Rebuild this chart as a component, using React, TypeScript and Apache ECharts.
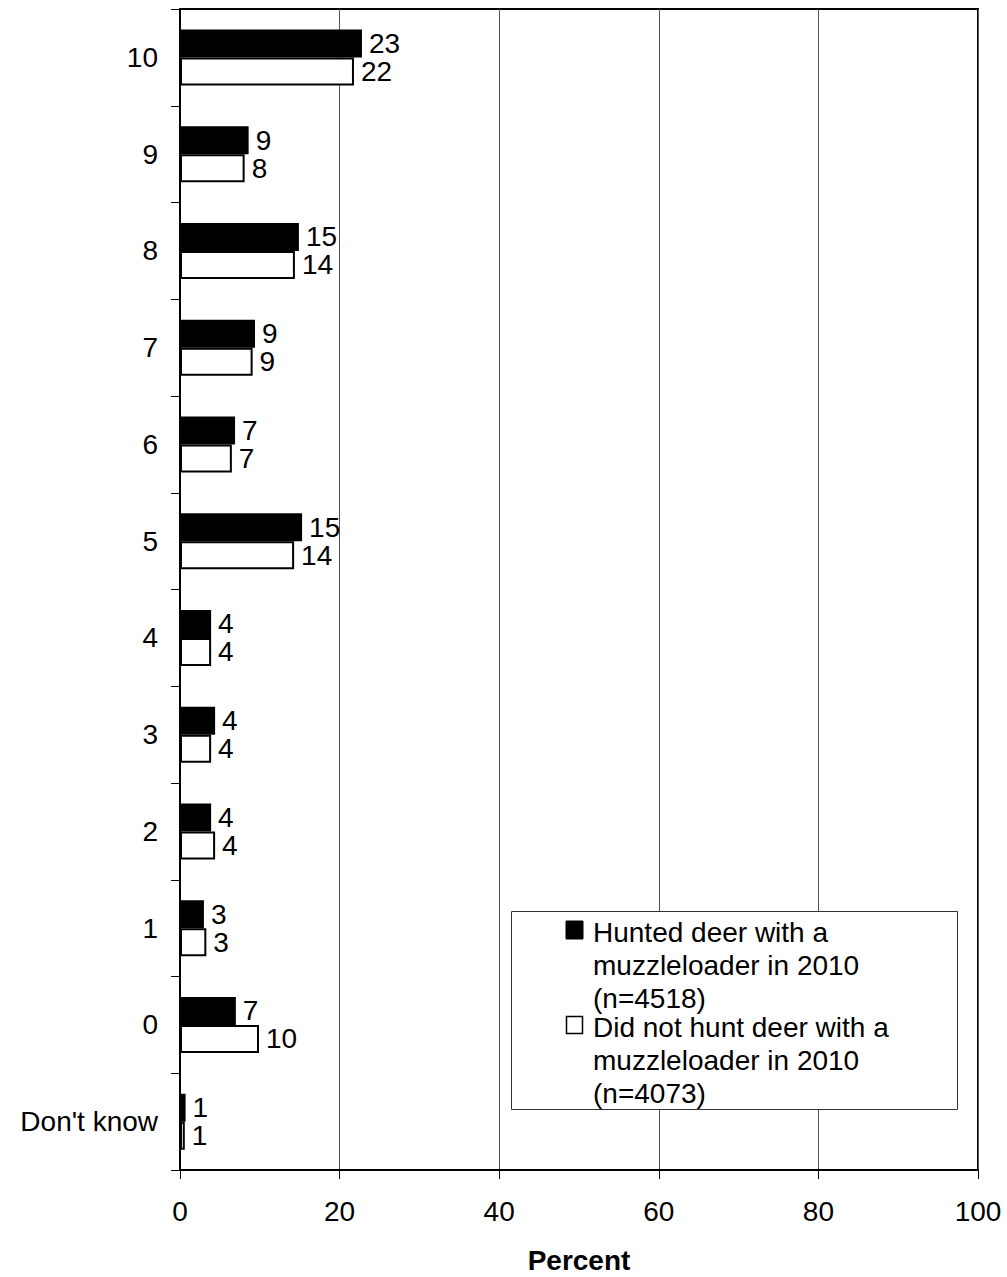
import React, { useEffect, useRef } from "react";
import * as echarts from "echarts";

const categories = ["10", "9", "8", "7", "6", "5", "4", "3", "2", "1", "0", "Don't know"];
const hunted = [22.8, 8.6, 14.9, 9.4, 6.9, 15.3, 3.9, 4.4, 3.9, 3.0, 7.0, 0.7];
const notHunted = [21.8, 8.1, 14.4, 9.1, 6.5, 14.3, 3.9, 3.9, 4.4, 3.3, 9.9, 0.6];
const huntedName = "Hunted deer with a\nmuzzleloader in 2010\n(n=4518)";
const notHuntedName = "Did not hunt deer with a\nmuzzleloader in 2010\n(n=4073)";
const xTicks = [0, 20, 40, 60, 80, 100];

const FONT = "'Liberation Sans', Arial, sans-serif";
const FS = 28;

export default function App() {
  const ref = useRef<HTMLDivElement>(null);
  useEffect(() => {
    if (!ref.current) return;
    const chart = echarts.init(ref.current, null, { renderer: "svg" });
    const label = {
      show: true,
      position: "right",
      distance: 7,
      fontSize: FS,
      fontFamily: FONT,
      color: "#000",
      formatter: (p: any) => String(Math.round(p.value)),
    };
    chart.setOption({
      animation: false,
      backgroundColor: "#fff",
      textStyle: { fontFamily: FONT },
      grid: {
        left: 180,
        top: 9,
        right: 29,
        bottom: 107,
        show: true,
        borderColor: "#000",
        borderWidth: 2,
        containLabel: false,
        outerBoundsMode: "none",
      },
      xAxis: {
        type: "value",
        min: xTicks[0],
        max: xTicks[xTicks.length - 1],
        interval: 20,
        name: "Percent",
        nameLocation: "middle",
        nameGap: 76,
        nameTextStyle: { fontSize: FS, fontWeight: "bold", color: "#000", fontFamily: FONT, lineHeight: 28 },
        axisLine: { show: true, lineStyle: { color: "#000", width: 2 } },
        axisTick: { show: true, length: 9, lineStyle: { color: "#000", width: 1 } },
        axisLabel: { fontSize: FS, color: "#000", margin: 27, fontFamily: FONT },
        splitLine: { show: true, lineStyle: { color: "#555", width: 1 } },
      },
      yAxis: {
        type: "category",
        data: categories,
        inverse: true,
        axisLine: { show: true, lineStyle: { color: "#000", width: 2 } },
        axisTick: { show: true, length: 9, lineStyle: { color: "#000", width: 1 } },
        axisLabel: { fontSize: FS, color: "#000", margin: 22, fontFamily: FONT },
        splitLine: { show: false },
      },
      series: [
        {
          name: huntedName,
          type: "bar",
          data: hunted,
          barWidth: 28,
          barGap: "0%",
          itemStyle: { color: "#000", borderColor: "#000", borderWidth: 2 },
          label,
        },
        {
          name: notHuntedName,
          type: "bar",
          data: notHunted,
          barWidth: 28,
          barGap: "0%",
          itemStyle: { color: "#fff", borderColor: "#000", borderWidth: 2 },
          label,
        },
      ],
      graphic: [
        {
          type: "rect",
          shape: { x: 511.5, y: 911.5, width: 446, height: 198 },
          style: { fill: "#fff", stroke: "#333", lineWidth: 1 },
          z: 10,
        },
        {
          type: "rect",
          shape: { x: 566, y: 921, width: 17, height: 18 },
          style: { fill: "#000", stroke: "#000", lineWidth: 1 },
          z: 11,
        },
        {
          type: "text",
          x: 593,
          y: 916,
          style: {
            text: huntedName,
            fontSize: FS,
            lineHeight: 33,
            fontFamily: FONT,
            fill: "#000",
            verticalAlign: "top",
          },
          z: 11,
        },
        {
          type: "rect",
          shape: { x: 566.5, y: 1016.5, width: 16, height: 17 },
          style: { fill: "#fff", stroke: "#000", lineWidth: 1.5 },
          z: 11,
        },
        {
          type: "text",
          x: 593,
          y: 1011,
          style: {
            text: notHuntedName,
            fontSize: FS,
            lineHeight: 33,
            fontFamily: FONT,
            fill: "#000",
            verticalAlign: "top",
          },
          z: 11,
        },
      ],
    });
    return () => chart.dispose();
  }, []);
  return (
    <div
      ref={ref}
      style={{ position: "fixed", left: 0, top: 0, width: 1007, height: 1277, background: "#fff" }}
    />
  );
}
